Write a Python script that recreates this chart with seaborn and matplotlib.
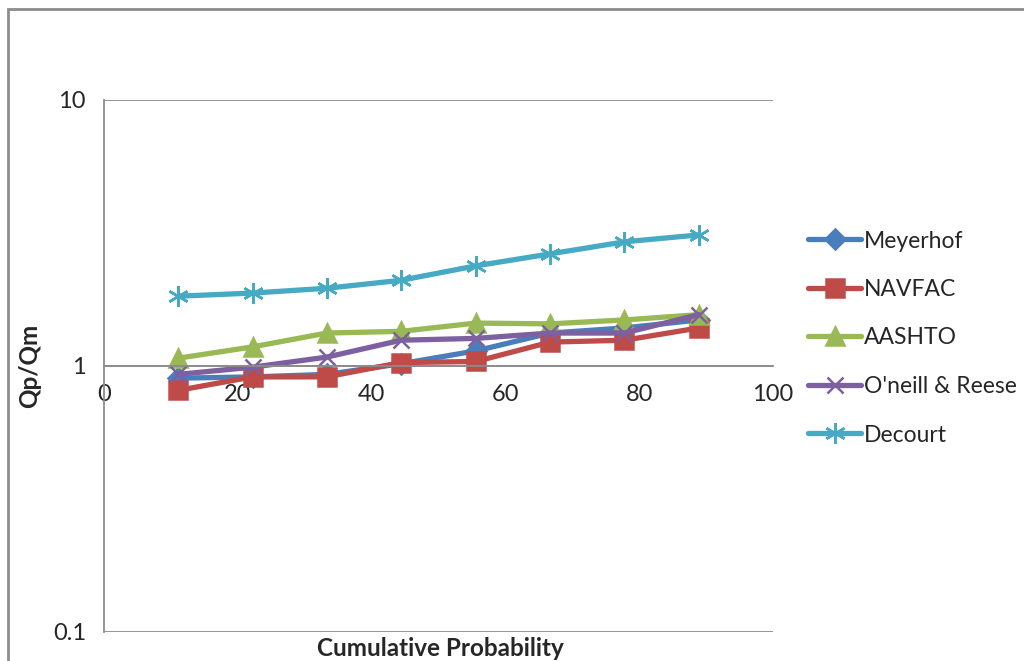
import numpy as np
import pandas as pd
import matplotlib
matplotlib.use('Agg')
import matplotlib.pyplot as plt
import seaborn as sns
from matplotlib.patches import Rectangle

# Data
prob = [11.1, 22.2, 33.3, 44.4, 55.6, 66.7, 77.8, 88.9]
meyerhof = [0.90, 0.91, 0.93, 1.02, 1.14, 1.33, 1.39, 1.49]
navfac = [0.81, 0.91, 0.91, 1.03, 1.04, 1.23, 1.25, 1.39]
aashto = [1.07, 1.18, 1.33, 1.35, 1.45, 1.44, 1.49, 1.56]
oneill = [0.93, 0.99, 1.08, 1.25, 1.27, 1.33, 1.33, 1.56]
decourt = [1.83, 1.88, 1.96, 2.10, 2.38, 2.64, 2.93, 3.11]

methods = ["Meyerhof", "NAVFAC", "AASHTO", "O'neill & Reese", "Decourt"]
series = [meyerhof, navfac, aashto, oneill, decourt]

colors = ['#4A7EBB', '#BE4B48', '#98B954', '#7D60A0', '#46AAC5']
markers = ['D', 's', '^', 'x', (6, 2, 0)]
msizes = [10, 13, 13, 12, 15]

sns.set_style('white')
plt.rcParams['font.family'] = ['Lato', 'DejaVu Sans']

fig = plt.figure(figsize=(10.24, 6.61), dpi=100)
ax = fig.add_axes([104 / 1024, 1 - 632 / 661, (773 - 104) / 1024, (632 - 100) / 661])

# Excel-style chart border (top and left visible)
fig.patches.append(Rectangle((8 / 1024, -0.1), 1.2, 1 - 9 / 661 + 0.1,
                             transform=fig.transFigure, fill=False,
                             edgecolor='#8c8c8c', linewidth=2))

handles = []
for name, vals, c, m, ms in zip(methods, series, colors, markers, msizes):
    sns.lineplot(x=prob, y=vals, color=c, marker=m, markersize=ms,
                 markeredgecolor=c, markerfacecolor=c, markeredgewidth=1.8,
                 linewidth=3.8, solid_capstyle='round', solid_joinstyle='round',
                 ax=ax, label=name, legend=False)
    handles.append(ax.lines[-1])

ax.set_yscale('log')
ax.set_ylim(0.1, 10)
ax.set_xlim(0, 100)
ax.set_yticks([0.1, 1, 10])
ax.set_yticklabels(['0.1', '1', '10'])
ax.minorticks_off()
ax.set_xticks([0, 20, 40, 60, 80, 100])
ax.set_xticklabels(['0', '20', '40', '60', '80', '100'])

ax.yaxis.grid(True, color='#8c8c8c', linewidth=1.3)
ax.set_axisbelow(True)
for s in ['top', 'right']:
    ax.spines[s].set_visible(False)
ax.spines['left'].set_color('#8c8c8c')
ax.spines['left'].set_linewidth(1.3)
ax.spines['bottom'].set_position(('data', 1))
ax.spines['bottom'].set_color('#8c8c8c')
ax.spines['bottom'].set_linewidth(1.3)
ax.tick_params(axis='x', length=0, pad=13, labelsize=17)
ax.tick_params(axis='y', length=0, pad=13, labelsize=17)

ax.set_xlabel('')
ax.set_ylabel('')
fig.text(440 / 1024, 1 - 648 / 661, 'Cumulative Probability', ha='center', va='center',
         fontsize=17.5, fontweight='bold')
fig.text(30 / 1024, 1 - 366 / 661, 'Qp/Qm', ha='center', va='center',
         fontsize=17.5, fontweight='bold', rotation=90)

# legend on the right
fig.legend(handles, methods, loc='center left', bbox_to_anchor=(799 / 1024, 1 - 338 / 661),
           frameon=False, fontsize=16.5, handlelength=2.3, handletextpad=0.15,
           labelspacing=1.2, borderaxespad=0)

fig.savefig('out.png', dpi=100)
